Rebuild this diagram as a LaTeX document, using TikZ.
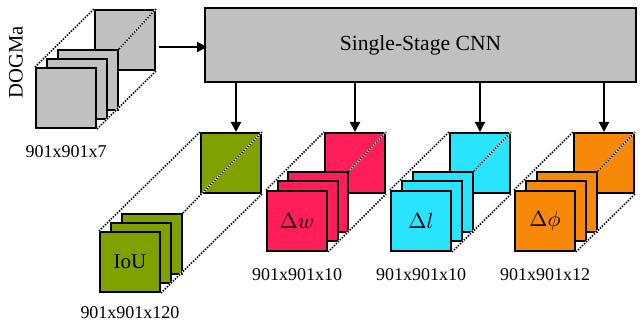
\documentclass[tikz,border=0pt]{standalone}
\usepackage{fontspec}
\setmainfont{Liberation Serif}
\usetikzlibrary{arrows.meta,positioning}

\definecolor{boxgray}{RGB}{192,192,192}
\definecolor{iougreen}{RGB}{128,160,0}
\definecolor{wpink}{RGB}{255,30,90}
\definecolor{lcyan}{RGB}{40,228,255}
\definecolor{phiorange}{RGB}{248,136,8}

\begin{document}
\begin{tikzpicture}[x = 0.5pt, y = -0.5pt,
  sq/.style = {draw, line width = 1.2pt, minimum size = 29.8pt, inner sep = 0pt, anchor = north west, font = \fontsize{10.5}{12}\selectfont},
  link/.style = {draw = black, line width = 0.8pt, dash pattern = on 0.7pt off 0.7pt, preaction = {draw = white, solid, line width = 0.8pt}},
  dims/.style = {font = \fontsize{9}{11}\selectfont},
  arr/.style = {line width = 1pt, -{Triangle[length = 5pt, width = 5pt]}}]
\useasboundingbox (0,0) rectangle (644,320);

% input grid
\node [rotate = 90, font = \fontsize{10.3}{12}\selectfont] (dname) at (16,62) {DOGMa};
\node [sq, fill = boxgray] (dback) at (94,9) {};
\node [sq, fill = boxgray] (dthird) at (57,49) {};
\node [sq, fill = boxgray] (dsecond) at (46,58) {};
\node [sq, fill = boxgray] (dfront) at (35,67) {};
\path [link] (dfront.north west) -- (dback.north west);
\path [link] (dthird.north east) -- (dback.north east);
\path [link] (dfront.south east) -- (dback.south east);
\node [dims, below = 4.5pt of dfront] (dsize) {901x901x7};

\node [draw, fill = boxgray, line width = 1pt, minimum width = 215.5pt, minimum height = 37pt, font = \fontsize{10.8}{13}\selectfont] (cnn) at (420.5,45) {Single-Stage CNN};
\draw [arr] ([shift = {(1.5pt,-3.5pt)}]dback.east) -- ([shift = {(1.5pt,-3.5pt)}]dback.east -| cnn.west);

% IoU head
\node [sq, fill = iougreen] (gback) at (200,132) {};
\node [sq, fill = iougreen] (gthird) at (121,213) {};
\node [sq, fill = iougreen] (gsecond) at (110,222) {};
\node [sq, fill = iougreen] (gfront) at (99,231) {IoU};
\path [link] (gfront.north west) -- (gback.north west);
\path [link] (gthird.north east) -- (gback.north east);
\path [link] (gfront.south east) -- (gback.south east);
\node [dims, below = 3pt of gfront] (gsize) {901x901x120};

% width head
\node [sq, fill = wpink] (wback) at (324,132) {};
\node [sq, fill = wpink] (wthird) at (287,171) {};
\node [sq, fill = wpink] (wsecond) at (277,180) {};
\node [sq, fill = wpink] (wfront) at (266,190) {$\Delta w$};
\path [link] (wfront.north west) -- (wback.north west);
\path [link] (wthird.north east) -- (wback.north east);
\path [link] (wfront.south east) -- (wback.south east);
\node [dims, below = 4.5pt of wfront] (wsize) {901x901x10};

% length head
\node [sq, fill = lcyan] (lback) at (449,132) {};
\node [sq, fill = lcyan] (lthird) at (412,171) {};
\node [sq, fill = lcyan] (lsecond) at (401,180) {};
\node [sq, fill = lcyan] (lfront) at (390,190) {$\Delta l$};
\path [link] (lfront.north west) -- (lback.north west);
\path [link] (lthird.north east) -- (lback.north east);
\path [link] (lfront.south east) -- (lback.south east);
\node [dims, below = 4.5pt of lfront] (lsize) {901x901x10};

% angle head
\node [sq, fill = phiorange] (pback) at (573,132) {};
\node [sq, fill = phiorange] (pthird) at (536,171) {};
\node [sq, fill = phiorange] (psecond) at (525,180) {};
\node [sq, fill = phiorange] (pfront) at (514,190) {$\Delta\phi$};
\path [link] (pfront.north west) -- (pback.north west);
\path [link] (pthird.north east) -- (pback.north east);
\path [link] (pfront.south east) -- (pback.south east);
\node [dims, below = 4.5pt of pfront] (psize) {901x901x12};

\draw [arr] ([xshift = 2.5pt]cnn.south -| gback.north) -- ([xshift = 2.5pt]gback.north);
\draw [arr] (cnn.south -| wback.north) -- (wback.north);
\draw [arr] (cnn.south -| lback.north) -- (lback.north);
\draw [arr] (cnn.south -| pback.north) -- (pback.north);
\end{tikzpicture}
\end{document}
